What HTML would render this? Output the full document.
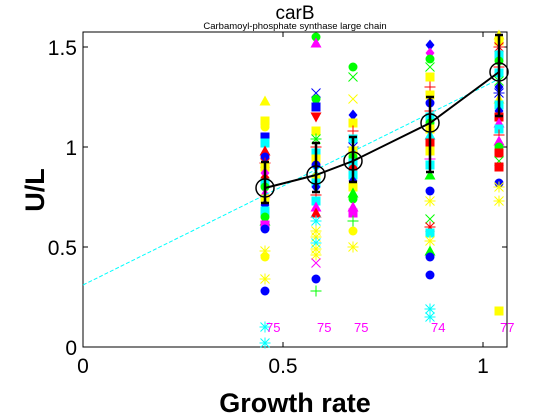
<!DOCTYPE html>
<html><head><meta charset="utf-8"><style>
body{margin:0;background:#fff;}
svg{display:block;font-family:"Liberation Sans",sans-serif;}
</style></head><body>
<svg id="chart" width="560" height="420" viewBox="0 0 560 420">
<rect width="560" height="420" fill="#fff"/>
<text x="295" y="19" font-size="19" text-anchor="middle">carB</text>
<text x="295" y="29" font-size="9.5" text-anchor="middle">Carbamoyl-phosphate synthase large chain</text>
<g id="plot"></g>
<text x="295" y="412" font-size="27" font-weight="bold" text-anchor="middle">Growth rate</text>
<text transform="translate(44,190) rotate(-90)" font-size="27" font-weight="bold" text-anchor="middle">U/L</text>
</svg>
<script>
const xTicks=[0,0.5,1];
const xTickLabels=["0","0.5","1"];
const yTicks=[0,0.5,1,1.5];
const yTickLabels=["0","0.5","1","1.5"];
const growth=[0.455,0.5825,0.675,0.8675,1.04];
const means=[0.795,0.86,0.93,1.12,1.375];
const errLo=[0.72,0.775,0.825,0.875,1.155];
const errHi=[0.925,1.02,1.05,1.25,1.56];
const counts=["75","75","75","74","77"];
const fitIntercept=0.31;
const fitSlope=0.99;
const col1=[[1.23,"^","y"],[1.13,"s","y"],[1.1,"o","y"],[1.05,"s","b"],[1.02,"s","c"],[0.98,"^","r"],[0.95,"o","b"],[0.92,"*","r"],[0.9,"s","y"],[0.87,"d","m"],[0.84,"o","r"],[0.82,"s","c"],[0.8,"o","g"],[0.77,"^","m"],[0.74,"s","y"],[0.71,"d","b"],[0.68,"s","c"],[0.65,"o","g"],[0.63,"^","g"],[0.61,"s","m"],[0.59,"o","b"],[0.48,"*","y"],[0.45,"o","y"],[0.34,"*","y"],[0.28,"o","b"],[0.1,"*","c"],[0.02,"*","c"]];
const col2=[[1.55,"o","g"],[1.52,"^","m"],[1.27,"x","b"],[1.24,"o","g"],[1.2,"s","b"],[1.15,"v","r"],[1.08,"s","y"],[1.04,"*","g"],[1.0,"+","r"],[0.97,"s","c"],[0.94,"s","y"],[0.91,"o","b"],[0.88,"x","c"],[0.85,"o","y"],[0.82,"s","c"],[0.8,"d","b"],[0.76,"+","r"],[0.73,"s","c"],[0.7,"^","m"],[0.67,"^","r"],[0.63,"*","c"],[0.58,"*","y"],[0.55,"*","y"],[0.52,"*","c"],[0.49,"*","y"],[0.46,"*","y"],[0.42,"x","m"],[0.34,"o","b"],[0.28,"+","g"]];
const col3=[[1.4,"o","g"],[1.35,"x","g"],[1.24,"x","y"],[1.16,"d","b"],[1.12,"s","y"],[1.08,"+","r"],[1.04,"s","c"],[1.0,"*","b"],[0.98,"s","y"],[0.95,"o","g"],[0.92,"s","c"],[0.89,"o","r"],[0.86,"s","c"],[0.83,"d","b"],[0.8,"s","y"],[0.77,"^","g"],[0.74,"o","g"],[0.7,"^","m"],[0.67,"s","m"],[0.63,"+","g"],[0.58,"o","y"],[0.5,"*","y"]];
const col4=[[1.51,"d","b"],[1.47,"d","m"],[1.44,"o","g"],[1.4,"x","g"],[1.35,"s","y"],[1.3,"+","r"],[1.26,"s","y"],[1.22,"o","b"],[1.18,"+","r"],[1.15,"s","c"],[1.12,"o","g"],[1.09,"s","y"],[1.06,"^","c"],[1.02,"s","r"],[0.98,"s","y"],[0.94,"+","m"],[0.91,"s","c"],[0.86,"^","g"],[0.78,"o","b"],[0.73,"*","y"],[0.64,"x","g"],[0.6,"*","r"],[0.57,"s","c"],[0.53,"*","y"],[0.48,"^","g"],[0.45,"o","b"],[0.36,"o","b"],[0.19,"*","c"],[0.15,"*","c"]];
const col5=[[1.56,"^","y"],[1.53,"s","y"],[1.5,"*","r"],[1.46,"s","c"],[1.43,"o","g"],[1.4,"+","r"],[1.37,"s","c"],[1.33,"x","g"],[1.3,"d","b"],[1.27,"*","b"],[1.24,"^","y"],[1.21,"s","c"],[1.18,"d","b"],[1.15,"s","r"],[1.12,"^","m"],[1.09,"s","c"],[1.06,"+","r"],[1.03,"^","m"],[1.0,"o","g"],[0.97,"s","r"],[0.93,"x","g"],[0.9,"s","r"],[0.82,"o","b"],[0.8,"*","y"],[0.73,"*","y"],[0.18,"s","y"]];
const columns=[col1,col2,col3,col4,col5];
const L=83,R=507,T=32,B=347,XMAX=1.06,YMAX=1.575;
const sx=v=>L+(R-L)*v/XMAX;
const sy=v=>B-(B-T)*v/YMAX;
const C={b:"#0000ff",c:"#00ffff",r:"#ff0000",g:"#00ff00",y:"#ffff00",m:"#ff00ff"};
const NS="http://www.w3.org/2000/svg";
const plot=document.getElementById("plot");
function mk(tag,at,parent){const e=document.createElementNS(NS,tag);for(const k in at)e.setAttribute(k,at[k]);(parent||plot).appendChild(e);return e;}
// frame
const frame=mk("rect",{x:L,y:T,width:R-L,height:B-T,fill:"none",stroke:"#000","stroke-width":1});


xTicks.forEach((t,i)=>{const x=sx(t);
 mk("line",{x1:x,x2:x,y1:B,y2:B-5,stroke:"#000"});mk("line",{x1:x,x2:x,y1:T,y2:T+5,stroke:"#000"});
 const tx=mk("text",{x:x,y:B+26,"font-size":21,"text-anchor":"middle"});tx.textContent=xTickLabels[i];
 
 });
yTicks.forEach((t,i)=>{const y=sy(t);
 mk("line",{x1:L,x2:L+5,y1:y,y2:y,stroke:"#000"});mk("line",{x1:R,x2:R-5,y1:y,y2:y,stroke:"#000"});
 const tx=mk("text",{x:L-6,y:y+8,"font-size":21,"text-anchor":"end"});tx.textContent=yTickLabels[i];
 
 });
function marker(x,y,t,col){
 const r=4.5;let e;
 if(t==="o")e=mk("circle",{cx:x,cy:y,r:r,fill:col});
 else if(t==="s")e=mk("rect",{x:x-r,y:y-r,width:2*r,height:2*r,fill:col});
 else if(t==="^")e=mk("polygon",{points:`${x},${y-r-1} ${x-r-1},${y+r} ${x+r+1},${y+r}`,fill:col});
 else if(t==="v")e=mk("polygon",{points:`${x},${y+r+1} ${x-r-1},${y-r} ${x+r+1},${y-r}`,fill:col});
 else if(t==="d")e=mk("polygon",{points:`${x},${y-r-1} ${x+r},${y} ${x},${y+r+1} ${x-r},${y}`,fill:col});
 else if(t==="x")e=mk("path",{d:`M${x-r} ${y-r}L${x+r} ${y+r}M${x-r} ${y+r}L${x+r} ${y-r}`,stroke:col,"stroke-width":1});
 else if(t==="+")e=mk("path",{d:`M${x-r-1} ${y}H${x+r+1}M${x} ${y-r-1}V${y+r+1}`,stroke:col,"stroke-width":1});
 else e=mk("path",{d:`M${x-r-1} ${y}H${x+r+1}M${x} ${y-r-1}V${y+r+1}M${x-r} ${y-r}L${x+r} ${y+r}M${x-r} ${y+r}L${x+r} ${y-r}`,stroke:col,"stroke-width":1});
 
 
}
columns.forEach((col,i)=>col.forEach(p=>marker(sx(growth[i]),sy(p[0]),p[1],C[p[2]])));
// fit line
const fit=mk("line",{x1:sx(0),y1:sy(fitIntercept),x2:sx(1.045),y2:sy(fitIntercept+fitSlope*1.045),stroke:"#00ffff","stroke-width":1,"stroke-dasharray":"4,2"});


// mean line
const ml=mk("polyline",{points:growth.map((g,i)=>sx(g)+","+sy(means[i])).join(" "),fill:"none",stroke:"#000","stroke-width":2});


growth.forEach((g,i)=>{const x=sx(g);
 const eb=mk("path",{d:`M${x} ${sy(errLo[i])}V${sy(errHi[i])}M${x-4} ${sy(errLo[i])}H${x+4}M${x-4} ${sy(errHi[i])}H${x+4}`,stroke:"#000","stroke-width":2.5,fill:"none"});
 
 
 const c=mk("circle",{cx:x,cy:sy(means[i]),r:9,fill:"none",stroke:"#000","stroke-width":1.5});
 
 
 const t=mk("text",{x:x+1,y:sy(0.1)+5,"font-size":13,fill:"#ff00ff"});t.textContent=counts[i];
 
 
});
</script>
</body></html>
